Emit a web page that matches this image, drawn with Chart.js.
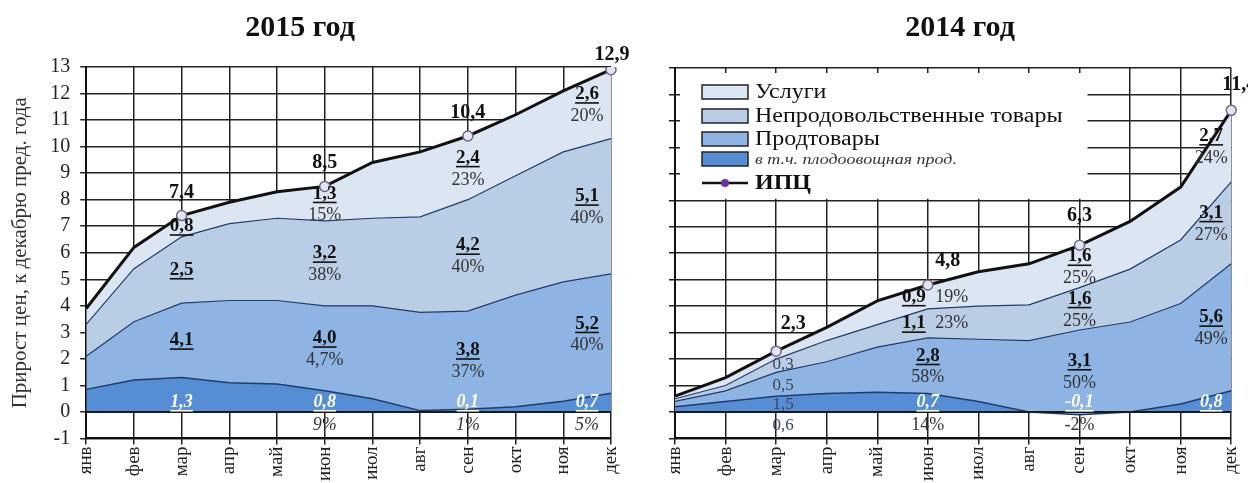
<!DOCTYPE html>
<html>
<head>
<meta charset="utf-8">
<script src="https://cdn.jsdelivr.net/npm/chart.js@4.4.1/dist/chart.umd.min.js"></script>
<style>
  body { margin: 0; background: #fff; overflow: hidden; }
  .half { position: absolute; top: 0; height: 483px; }
</style>
</head>
<body>
<div class="half" style="left:0;width:650px"><canvas id="c15"></canvas></div>
<div class="half" style="left:624px;width:632px"><canvas id="c14"></canvas></div>
<script>
var months = ['янв', 'фев', 'мар', 'апр', 'май', 'июн', 'июл', 'авг', 'сен', 'окт', 'ноя', 'дек'];
var markIdx = [2, 5, 8, 11]; // мар, июн, сен, дек

// 2015 год: уровни накопленным итогом, п.п. к декабрю пред. года
var cpi15     = [3.9, 6.2, 7.4, 7.9, 8.3, 8.5, 9.4, 9.8, 10.4, 11.2, 12.1, 12.9];
var nonTop15  = [3.3, 5.4, 6.6, 7.1, 7.3, 7.2, 7.3, 7.35, 8.0, 8.9, 9.8, 10.3];
var foodTop15 = [2.1, 3.4, 4.1, 4.2, 4.2, 4.0, 4.0, 3.75, 3.8, 4.4, 4.9, 5.2];
var fruit15   = [0.85, 1.2, 1.3, 1.1, 1.05, 0.8, 0.5, 0.05, 0.1, 0.2, 0.4, 0.7];

// 2014 год
var cpi14     = [0.6, 1.3, 2.3, 3.2, 4.2, 4.8, 5.3, 5.6, 6.3, 7.2, 8.5, 11.4];
var nonTop14  = [0.5, 1.0, 2.0, 2.7, 3.3, 3.9, 4.0, 4.05, 4.7, 5.4, 6.5, 8.7];
var foodTop14 = [0.4, 0.8, 1.5, 1.9, 2.45, 2.8, 2.75, 2.7, 3.1, 3.4, 4.1, 5.6];
var fruit14   = [0.2, 0.4, 0.6, 0.7, 0.75, 0.7, 0.4, 0.0, -0.1, 0.0, 0.3, 0.8];

// подписи вкладов (мар, июн, сен, дек)
var svcLbl15 = ['0,8', '1,3', '2,4', '2,6'],   svcPct15 = ['', '15%', '23%', '20%'];
var nonLbl15 = ['2,5', '3,2', '4,2', '5,1'],   nonPct15 = ['', '38%', '40%', '40%'];
var foodLbl15 = ['4,1', '4,0', '3,8', '5,2'],  foodPct15 = ['', '4,7%', '37%', '40%'];
var fruitLbl15 = ['1,3', '0,8', '0,1', '0,7'], fruitPct15 = ['', '9%', '1%', '5%'];

var svcLbl14 = ['0,3', '0,9', '1,6', '2,7'],    svcPct14 = ['', '19%', '25%', '24%'];
var nonLbl14 = ['0,5', '1,1', '1,6', '3,1'],    nonPct14 = ['', '23%', '25%', '27%'];
var foodLbl14 = ['1,5', '2,8', '3,1', '5,6'],   foodPct14 = ['', '58%', '50%', '49%'];
var fruitLbl14 = ['0,6', '0,7', '-0,1', '0,8'], fruitPct14 = ['', '14%', '-2%', ''];

var legendNames = ['Услуги', 'Непродовольственные товары', 'Продтовары', 'в т.ч. плодоовощная прод.', 'ИПЦ'];

var SERIF = '"Liberation Serif", "Times New Roman", serif';
var colSvc = '#dce6f2', colNon = '#b9cde5', colFood = '#8eb4e3', colFruit = '#558ed5', colEdge = '#1f3c6e';

var extras = {
  c15: {title: '2015 год', titleX: 300, lastDx: -24, pctItalic: true, plainFirst: false,
        top: [[0, -23], [0, -24], [0, -23], [1, -15]],
        svc: svcLbl15, svcPct: svcPct15, non: nonLbl15, nonPct: nonPct15,
        food: foodLbl15, foodPct: foodPct15, fruit: fruitLbl15, fruitPct: fruitPct15},
  c14: {title: '2014 год', titleX: 336, lastDx: -20, pctItalic: false, plainFirst: true, legend: true,
        top: [[17, -27], [20, -24], [0, -29], [8, -26]],
        svc: svcLbl14, svcPct: svcPct14, non: nonLbl14, nonPct: nonPct14,
        food: foodLbl14, foodPct: foodPct14, fruit: fruitLbl14, fruitPct: fruitPct14}
};

function put(ctx, s, x, y, font, color, ul) {
  if (!s) return;
  ctx.font = font;
  ctx.fillStyle = color;
  ctx.textAlign = 'center';
  ctx.textBaseline = 'middle';
  ctx.fillText(s, x, y);
  if (ul) {
    var w = ctx.measureText(s).width;
    ctx.fillRect(x - w / 2, y + 8, w, 1.6);
  }
}

function band(ctx, x, yTop, yBot, num, pct) {
  var mid = (yTop + yBot) / 2;
  if (pct && yBot - yTop < 32) {
    put(ctx, num, x - 14, mid, 'bold 19px ' + SERIF, '#111', true);
    put(ctx, pct, x + 24, mid, '18px ' + SERIF, '#333', false);
  } else if (pct) {
    put(ctx, num, x, mid - 10, 'bold 19px ' + SERIF, '#111', true);
    put(ctx, pct, x, mid + 12, '18px ' + SERIF, '#333', false);
  } else {
    put(ctx, num, x, mid, 'bold 19px ' + SERIF, '#111', true);
  }
}

function wideText(ctx, s, x, y, font, sx) {
  ctx.save();
  ctx.font = font;
  ctx.translate(x, y);
  ctx.scale(sx, 1);
  ctx.fillText(s, 0, 0);
  ctx.restore();
}

function drawLegend(chart) {
  var ctx = chart.ctx, a = chart.chartArea, xs = chart.scales.x, ys = chart.scales.y;
  var r = xs.getPixelForValue(8) + 8, b = ys.getPixelForValue(8) - 1.5;
  ctx.save();
  ctx.fillStyle = '#fff';
  ctx.fillRect(a.left + 5, a.top + 5, r - a.left - 5, b - a.top - 5);
  var rows = [24, 48, 71, 91, 115];
  var fills = [colSvc, colNon, colFood, colFruit];
  var fonts = ['20px ', '20px ', '20px ', 'italic 15px ', 'bold 20px '];
  ctx.textBaseline = 'middle';
  ctx.textAlign = 'left';
  for (var i = 0; i < legendNames.length; i++) {
    var y = a.top + rows[i];
    if (i < 4) {
      ctx.fillStyle = fills[i];
      ctx.fillRect(a.left + 27, y - 7, 46, 14);
      ctx.strokeStyle = '#222';
      ctx.lineWidth = 1.5;
      ctx.strokeRect(a.left + 27, y - 7, 46, 14);
    } else {
      ctx.strokeStyle = '#111';
      ctx.lineWidth = 2.5;
      ctx.beginPath(); ctx.moveTo(a.left + 27, y); ctx.lineTo(a.left + 73, y); ctx.stroke();
      ctx.fillStyle = '#7030a0';
      ctx.beginPath(); ctx.arc(a.left + 50, y, 4, 0, Math.PI * 2); ctx.fill();
    }
    ctx.fillStyle = i === 3 ? '#333' : '#111';
    wideText(ctx, legendNames[i], a.left + 80, y + 1, fonts[i] + SERIF, 1.2);
  }
  ctx.restore();
}

var labelPlugin = {
  id: 'lbls',
  beforeDatasetsDraw: function(chart) {
    if (extras[chart.canvas.id].legend) drawLegend(chart);
  },
  afterDatasetsDraw: function(chart) {
    var e = extras[chart.canvas.id];
    var ctx = chart.ctx, xs = chart.scales.x, ys = chart.scales.y, a = chart.chartArea;
    var ds = chart.data.datasets;
    var cpi = ds[0].data, non = ds[1].data, food = ds[2].data, fruit = ds[3].data;
    var y0 = ys.getPixelForValue(0);
    ctx.save();
    ctx.strokeStyle = '#1a1a1a';
    ctx.lineWidth = 2;
    ctx.beginPath(); ctx.moveTo(a.left, y0); ctx.lineTo(a.right, y0); ctx.stroke();
    markIdx.forEach(function(i, k) {
      var px = xs.getPixelForValue(i);
      var x = px + (i === 11 ? e.lastDx : 0);
      if (e.plainFirst && k === 0) {
        var py = ys.getPixelForValue(cpi[i]);
        var offs = [13, 34, 53, 74];
        [e.svc[k], e.non[k], e.food[k], e.fruit[k]].forEach(function(s, j) {
          put(ctx, s, px + 7, py + offs[j], '17px ' + SERIF, '#3a4660', false);
        });
      } else {
        band(ctx, x, ys.getPixelForValue(cpi[i]), ys.getPixelForValue(non[i]), e.svc[k], e.svcPct[k]);
        band(ctx, x, ys.getPixelForValue(non[i]), ys.getPixelForValue(food[i]), e.non[k], e.nonPct[k]);
        band(ctx, x, ys.getPixelForValue(food[i]), ys.getPixelForValue(Math.max(fruit[i], 0)), e.food[k], e.foodPct[k]);
        put(ctx, e.fruit[k], x, y0 - 10, 'italic bold 18px ' + SERIF, '#fff', true);
        put(ctx, e.fruitPct[k], x, y0 + 13, (e.pctItalic ? 'italic ' : '') + '18px ' + SERIF, '#333', false);
      }
      var p = e.top[k];
      put(ctx, String(cpi[i]).replace('.', ','), px + p[0], ys.getPixelForValue(cpi[i]) + p[1], 'bold 20px ' + SERIF, '#111', false);
    });
    ctx.restore();
  },
  afterDraw: function(chart) {
    var e = extras[chart.canvas.id];
    put(chart.ctx, e.title, e.titleX, 28, 'bold 30px ' + SERIF, '#111', false);
  }
};

function build(id, cpi, non, food, fruit, showY, pad) {
  return new Chart(document.getElementById(id), {
    type: 'line',
    data: {
      labels: months,
      datasets: [{
        label: 'ИПЦ',
        data: cpi,
        borderColor: '#111',
        borderWidth: 3,
        backgroundColor: colSvc,
        fill: '+1',
        pointRadius: months.map(function(m, i) { return markIdx.indexOf(i) >= 0 ? 5 : 0; }),
        pointBackgroundColor: '#e6e4f3',
        pointBorderColor: '#6b6b88',
        pointBorderWidth: 1.5
      }, {
        label: 'Непродовольственные товары',
        data: non,
        borderColor: colEdge,
        borderWidth: 1.2,
        backgroundColor: colNon,
        fill: '+1',
        pointRadius: 0
      }, {
        label: 'Продтовары',
        data: food,
        borderColor: colEdge,
        borderWidth: 1.2,
        backgroundColor: colFood,
        fill: '+1',
        pointRadius: 0
      }, {
        label: 'в т.ч. плодоовощная прод.',
        data: fruit,
        borderColor: colEdge,
        borderWidth: 1.5,
        backgroundColor: colFruit,
        fill: 'origin',
        pointRadius: 0
      }]
    },
    options: {
      responsive: true,
      maintainAspectRatio: false,
      animation: false,
      layout: { padding: pad },
      plugins: {
        legend: { display: false },
        tooltip: { enabled: false },
        filler: { drawTime: 'beforeDatasetsDraw' }
      },
      scales: {
        x: {
          offset: false,
          grid: { color: '#222', lineWidth: 1.5, tickLength: 6 },
          border: { color: '#111', width: 2 },
          ticks: { minRotation: 90, maxRotation: 90, autoSkip: false, color: '#222', padding: 2,
                   font: { family: SERIF, size: 19 } }
        },
        y: {
          min: -1,
          max: 13,
          grid: { color: '#222', lineWidth: 1.5, tickLength: 6 },
          border: { color: '#111', width: 2 },
          ticks: { display: showY, stepSize: 1, autoSkip: false, color: '#222', padding: 10,
                   font: { family: SERIF, size: 20 } },
          title: { display: showY, text: 'Прирост цен, к декабрю пред. года', color: '#333',
                   font: { family: SERIF, size: 21 }, padding: { top: 0, bottom: 7 } }
        }
      }
    },
    plugins: [labelPlugin]
  });
}

build('c15', cpi15, nonTop15, foodTop15, fruit15, true, { left: 8, right: 39, top: 67, bottom: 0 });
build('c14', cpi14, nonTop14, foodTop14, fruit14, false, { left: 45, right: 0, top: 68, bottom: 0 });
</script>
</body>
</html>
